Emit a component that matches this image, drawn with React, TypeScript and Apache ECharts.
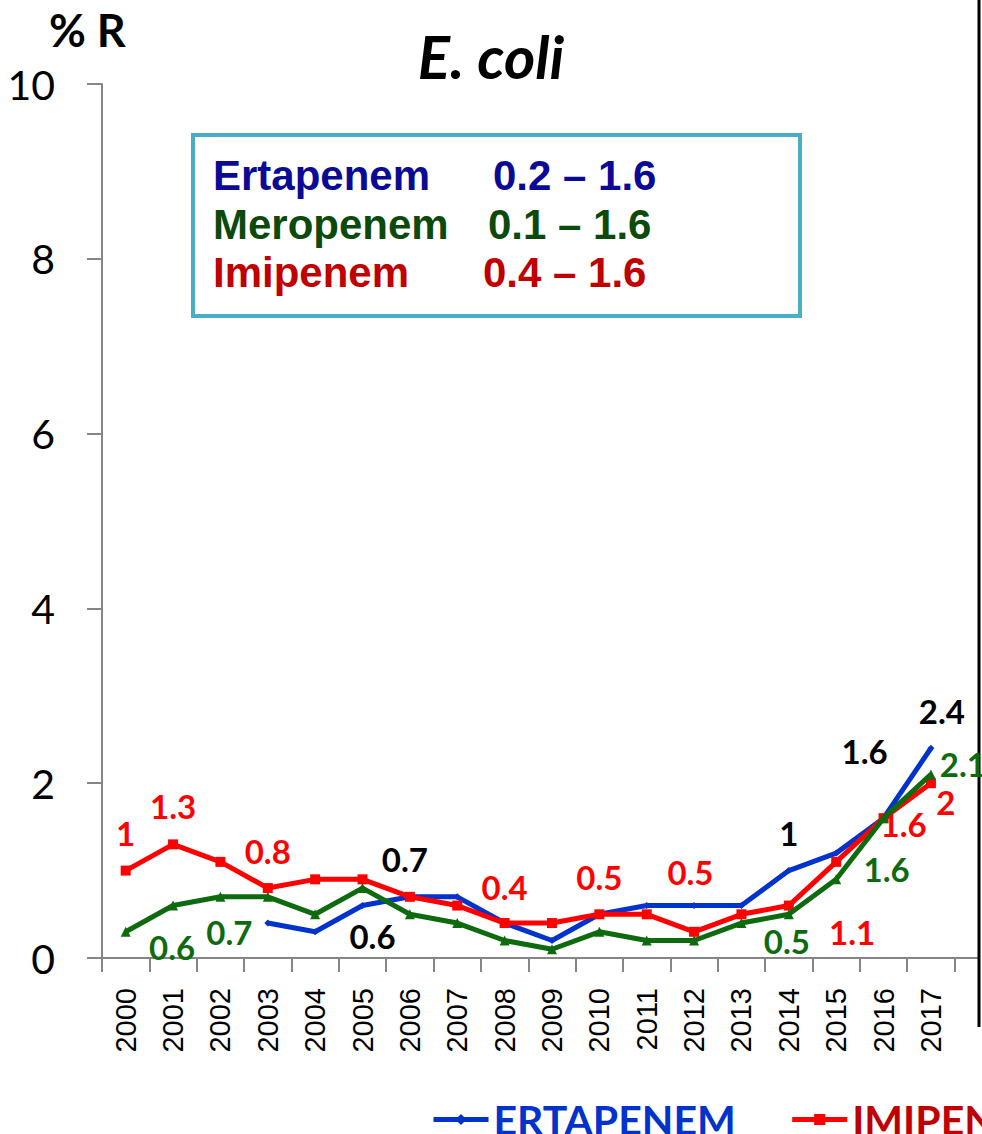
import React, { useEffect, useRef } from "react";
import * as echarts from "echarts";

const years = ["2000","2001","2002","2003","2004","2005","2006","2007","2008","2009","2010","2011","2012","2013","2014","2015","2016","2017"];
const ertapenem = [null, null, null, 0.4, 0.3, 0.6, 0.7, 0.7, 0.4, 0.2, 0.5, 0.6, 0.6, 0.6, 1.0, 1.2, 1.6, 2.4];
const imipenem = [1.0, 1.3, 1.1, 0.8, 0.9, 0.9, 0.7, 0.6, 0.4, 0.4, 0.5, 0.5, 0.3, 0.5, 0.6, 1.1, 1.6, 2.0];
const meropenem = [0.3, 0.6, 0.7, 0.7, 0.5, 0.8, 0.5, 0.4, 0.2, 0.1, 0.3, 0.2, 0.2, 0.4, 0.5, 0.9, 1.6, 2.1];
const yTicks = [0, 2, 4, 6, 8, 10];

const rangeRows = [
  { name: "Ertapenem", range: "0.2 \u2013 1.6", color: "#0A0A96" },
  { name: "Meropenem", range: "0.1 \u2013 1.6", color: "#0B4A0B" },
  { name: "Imipenem", range: "0.4 \u2013 1.6", color: "#C00000" },
];

// label offsets (style only): index -> [dx, dy]
const ertaLabels: Record<number, number[]> = { 5: [10, 30], 6: [-5, -38], 14: [0, -38], 16: [-19, -67], 17: [11, -37] };
const imiLabels: Record<number, number[]> = { 0: [0, -38], 1: [0, -38], 3: [0, -37], 8: [0, -36], 10: [0, -37], 13: [-51, -42], 15: [16, 70], 16: [20, 6], 17: [15, 19] };
const meroLabels: Record<number, number[]> = { 1: [-1, 41], 2: [9, 35], 14: [-2, 27], 16: [3, 51], 17: [32, -10] };

const BLUE = "#0033CC";
const RED = "#FF0000";
const GREEN = "#0E6A0E";

function buildData(values: (number | null)[], labels: Record<number, number[]>, color: string) {
  return values.map((v, i) => {
    const off = labels[i];
    if (v === null) return null;
    if (!off) return { value: v };
    return {
      value: v,
      label: {
        show: true,
        position: "inside",
        offset: off,
        color,
        fontFamily: "Lato",
        fontWeight: "bold",
        fontSize: 33,
      },
    };
  });
}

export default function App() {
  const ref = useRef<HTMLDivElement>(null);
  useEffect(() => {
    if (!ref.current) return;
    const chart = echarts.init(ref.current, null, { renderer: "svg" });
    const boxX = 193, boxY = 135, boxW = 607, boxH = 181;
    const rowY = [175, 224, 272];
    const rangeX = [493, 488, 483];
    const graphics: any[] = [
      {
        type: "rect",
        shape: { x: boxX, y: boxY, width: boxW, height: boxH },
        style: { fill: "#fff", stroke: "#4BACC6", lineWidth: 4 },
        z: 10,
      },
      {
        type: "text",
        x: 49,
        y: 30,
        style: { text: "% R", fontFamily: "Lato", fontWeight: "bold", fontSize: 45, fill: "#000", textVerticalAlign: "middle" },
        z: 10,
      },
      {
        type: "text",
        x: 491,
        y: 56,
        style: { text: "E. coli", fontFamily: "Lato", fontWeight: "bold", fontStyle: "italic", fontSize: 60, fill: "#000", textAlign: "center", textVerticalAlign: "middle" },
        z: 10,
      },
      {
        type: "line",
        shape: { x1: 954, y1: 958, x2: 979, y2: 958 },
        style: { stroke: "#868686", lineWidth: 2 },
      },
      {
        type: "line",
        shape: { x1: 979, y1: 0, x2: 979, y2: 1027 },
        style: { stroke: "#000", lineWidth: 3 },
      },
    ];
    rangeRows.forEach((r, i) => {
      graphics.push({
        type: "text",
        x: 213,
        y: rowY[i],
        style: { text: r.name, fontFamily: "Liberation Sans", fontWeight: "bold", fontSize: 42, fill: r.color, textVerticalAlign: "middle" },
        z: 11,
      });
      graphics.push({
        type: "text",
        x: rangeX[i],
        y: rowY[i],
        style: { text: r.range, fontFamily: "Liberation Sans", fontWeight: "bold", fontSize: 42, fill: r.color, textVerticalAlign: "middle" },
        z: 11,
      });
    });

    chart.setOption({
      animation: false,
      backgroundColor: "#fff",
      grid: { left: 102, right: 27.4, top: 84, bottom: 176, containLabel: false },
      xAxis: {
        type: "category",
        data: years,
        boundaryGap: true,
        axisLine: { show: true, lineStyle: { color: "#868686", width: 2 } },
        axisTick: { show: true, length: 14, interval: 0, lineStyle: { color: "#868686", width: 2 } },
        axisLabel: { rotate: 90, interval: 0, margin: 30, fontFamily: "Liberation Sans", fontSize: 29, color: "#000" },
        splitLine: { show: false },
      },
      yAxis: {
        type: "value",
        min: yTicks[0],
        max: yTicks[yTicks.length - 1],
        interval: 2,
        axisLine: { show: true, lineStyle: { color: "#868686", width: 2 } },
        axisTick: { show: true, length: 15, lineStyle: { color: "#868686", width: 2 } },
        axisLabel: { margin: 47, fontFamily: "Lato", fontSize: 41, color: "#000" },
        splitLine: { show: false },
      },
      legend: {
        left: 431,
        top: 1099,
        padding: 0,
        width: 3000,
        itemWidth: 55,
        itemHeight: 14,
        itemGap: 54,
        lineStyle: { width: 5 },
        textStyle: { fontFamily: "Lato", fontWeight: "bold", fontSize: 41 },
        data: [
          { name: "ERTAPENEM", textStyle: { color: BLUE } },
          { name: "IMIPENEM", textStyle: { color: "#C00000" } },
          { name: "MEROPENEM", textStyle: { color: GREEN } },
        ],
      },
      series: [
        {
          name: "ERTAPENEM",
          type: "line",
          data: buildData(ertapenem, ertaLabels, "#000"),
          connectNulls: false,
          symbol: "diamond",
          symbolSize: 7,
          lineStyle: { color: BLUE, width: 5 },
          itemStyle: { color: BLUE },
          z: 2,
        },
        {
          name: "IMIPENEM",
          type: "line",
          data: buildData(imipenem, imiLabels, RED),
          symbol: "rect",
          symbolSize: 10,
          lineStyle: { color: RED, width: 5 },
          itemStyle: { color: RED },
          z: 3,
        },
        {
          name: "MEROPENEM",
          type: "line",
          data: buildData(meropenem, meroLabels, GREEN),
          symbol: "triangle",
          symbolSize: 10,
          lineStyle: { color: GREEN, width: 5 },
          itemStyle: { color: GREEN },
          z: 4,
        },
      ],
      graphic: graphics,
    });
    return () => chart.dispose();
  }, []);
  return <div ref={ref} style={{ position: "absolute", left: 0, top: 0, width: 982, height: 1134 }} />;
}
